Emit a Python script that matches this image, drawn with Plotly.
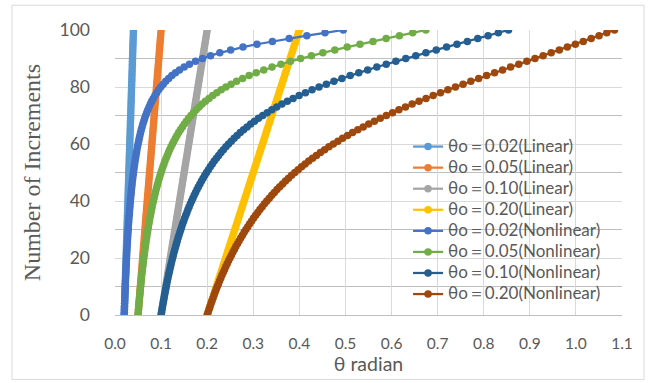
import plotly.graph_objects as go

# ---------------- data ----------------
increments = list(range(0, 101))  # increment number 0..100 (y values of every series)

linear_002 = [0.0200, 0.0202, 0.0204, 0.0206, 0.0208, 0.0210, 0.0212, 0.0214, 0.0216, 0.0218,
              0.0220, 0.0222, 0.0224, 0.0226, 0.0228, 0.0230, 0.0232, 0.0234, 0.0236, 0.0238,
              0.0240, 0.0242, 0.0244, 0.0246, 0.0248, 0.0250, 0.0252, 0.0254, 0.0256, 0.0258,
              0.0260, 0.0262, 0.0264, 0.0266, 0.0268, 0.0270, 0.0272, 0.0274, 0.0276, 0.0278,
              0.0280, 0.0282, 0.0284, 0.0286, 0.0288, 0.0290, 0.0292, 0.0294, 0.0296, 0.0298,
              0.0300, 0.0302, 0.0304, 0.0306, 0.0308, 0.0310, 0.0312, 0.0314, 0.0316, 0.0318,
              0.0320, 0.0322, 0.0324, 0.0326, 0.0328, 0.0330, 0.0332, 0.0334, 0.0336, 0.0338,
              0.0340, 0.0342, 0.0344, 0.0346, 0.0348, 0.0350, 0.0352, 0.0354, 0.0356, 0.0358,
              0.0360, 0.0362, 0.0364, 0.0366, 0.0368, 0.0370, 0.0372, 0.0374, 0.0376, 0.0378,
              0.0380, 0.0382, 0.0384, 0.0386, 0.0388, 0.0390, 0.0392, 0.0394, 0.0396, 0.0398,
              0.0400]
linear_005 = [0.0500, 0.0505, 0.0510, 0.0515, 0.0520, 0.0525, 0.0530, 0.0535, 0.0540, 0.0545,
              0.0550, 0.0555, 0.0560, 0.0565, 0.0570, 0.0575, 0.0580, 0.0585, 0.0590, 0.0595,
              0.0600, 0.0605, 0.0610, 0.0615, 0.0620, 0.0625, 0.0630, 0.0635, 0.0640, 0.0645,
              0.0650, 0.0655, 0.0660, 0.0665, 0.0670, 0.0675, 0.0680, 0.0685, 0.0690, 0.0695,
              0.0700, 0.0705, 0.0710, 0.0715, 0.0720, 0.0725, 0.0730, 0.0735, 0.0740, 0.0745,
              0.0750, 0.0755, 0.0760, 0.0765, 0.0770, 0.0775, 0.0780, 0.0785, 0.0790, 0.0795,
              0.0800, 0.0805, 0.0810, 0.0815, 0.0820, 0.0825, 0.0830, 0.0835, 0.0840, 0.0845,
              0.0850, 0.0855, 0.0860, 0.0865, 0.0870, 0.0875, 0.0880, 0.0885, 0.0890, 0.0895,
              0.0900, 0.0905, 0.0910, 0.0915, 0.0920, 0.0925, 0.0930, 0.0935, 0.0940, 0.0945,
              0.0950, 0.0955, 0.0960, 0.0965, 0.0970, 0.0975, 0.0980, 0.0985, 0.0990, 0.0995,
              0.1000]
linear_010 = [0.100, 0.101, 0.102, 0.103, 0.104, 0.105, 0.106, 0.107, 0.108, 0.109,
              0.110, 0.111, 0.112, 0.113, 0.114, 0.115, 0.116, 0.117, 0.118, 0.119,
              0.120, 0.121, 0.122, 0.123, 0.124, 0.125, 0.126, 0.127, 0.128, 0.129,
              0.130, 0.131, 0.132, 0.133, 0.134, 0.135, 0.136, 0.137, 0.138, 0.139,
              0.140, 0.141, 0.142, 0.143, 0.144, 0.145, 0.146, 0.147, 0.148, 0.149,
              0.150, 0.151, 0.152, 0.153, 0.154, 0.155, 0.156, 0.157, 0.158, 0.159,
              0.160, 0.161, 0.162, 0.163, 0.164, 0.165, 0.166, 0.167, 0.168, 0.169,
              0.170, 0.171, 0.172, 0.173, 0.174, 0.175, 0.176, 0.177, 0.178, 0.179,
              0.180, 0.181, 0.182, 0.183, 0.184, 0.185, 0.186, 0.187, 0.188, 0.189,
              0.190, 0.191, 0.192, 0.193, 0.194, 0.195, 0.196, 0.197, 0.198, 0.199,
              0.200]
linear_020 = [0.200, 0.202, 0.204, 0.206, 0.208, 0.210, 0.212, 0.214, 0.216, 0.218,
              0.220, 0.222, 0.224, 0.226, 0.228, 0.230, 0.232, 0.234, 0.236, 0.238,
              0.240, 0.242, 0.244, 0.246, 0.248, 0.250, 0.252, 0.254, 0.256, 0.258,
              0.260, 0.262, 0.264, 0.266, 0.268, 0.270, 0.272, 0.274, 0.276, 0.278,
              0.280, 0.282, 0.284, 0.286, 0.288, 0.290, 0.292, 0.294, 0.296, 0.298,
              0.300, 0.302, 0.304, 0.306, 0.308, 0.310, 0.312, 0.314, 0.316, 0.318,
              0.320, 0.322, 0.324, 0.326, 0.328, 0.330, 0.332, 0.334, 0.336, 0.338,
              0.340, 0.342, 0.344, 0.346, 0.348, 0.350, 0.352, 0.354, 0.356, 0.358,
              0.360, 0.362, 0.364, 0.366, 0.368, 0.370, 0.372, 0.374, 0.376, 0.378,
              0.380, 0.382, 0.384, 0.386, 0.388, 0.390, 0.392, 0.394, 0.396, 0.398,
              0.400]

nonlinear_002 = [0.0200, 0.0202, 0.0204, 0.0206, 0.0208, 0.0211, 0.0213, 0.0215, 0.0217, 0.0220,
                 0.0222, 0.0225, 0.0227, 0.0230, 0.0233, 0.0235, 0.0238, 0.0241, 0.0244, 0.0247,
                 0.0250, 0.0253, 0.0256, 0.0260, 0.0263, 0.0267, 0.0270, 0.0274, 0.0278, 0.0282,
                 0.0286, 0.0290, 0.0294, 0.0299, 0.0303, 0.0308, 0.0313, 0.0317, 0.0323, 0.0328,
                 0.0333, 0.0339, 0.0345, 0.0351, 0.0357, 0.0364, 0.0370, 0.0377, 0.0385, 0.0392,
                 0.0400, 0.0408, 0.0417, 0.0426, 0.0435, 0.0444, 0.0455, 0.0465, 0.0476, 0.0488,
                 0.0500, 0.0513, 0.0526, 0.0540, 0.0555, 0.0570, 0.0587, 0.0605, 0.0624, 0.0644,
                 0.0665, 0.0688, 0.0713, 0.0739, 0.0767, 0.0797, 0.0830, 0.0866, 0.0905, 0.0947,
                 0.0993, 0.1045, 0.1101, 0.1164, 0.1234, 0.1312, 0.1400, 0.1501, 0.1615, 0.1747,
                 0.1898, 0.2073, 0.2274, 0.2509, 0.2777, 0.3080, 0.3415, 0.3779, 0.4162, 0.4556,
                 0.4953]
nonlinear_005 = [0.0500, 0.0505, 0.0510, 0.0515, 0.0521, 0.0526, 0.0532, 0.0538, 0.0543, 0.0549,
                 0.0556, 0.0562, 0.0568, 0.0575, 0.0581, 0.0588, 0.0595, 0.0602, 0.0610, 0.0617,
                 0.0625, 0.0633, 0.0641, 0.0649, 0.0658, 0.0666, 0.0675, 0.0685, 0.0694, 0.0704,
                 0.0714, 0.0724, 0.0735, 0.0746, 0.0757, 0.0769, 0.0781, 0.0793, 0.0806, 0.0819,
                 0.0833, 0.0847, 0.0861, 0.0876, 0.0892, 0.0908, 0.0925, 0.0942, 0.0960, 0.0979,
                 0.0998, 0.1018, 0.1040, 0.1062, 0.1084, 0.1108, 0.1133, 0.1159, 0.1186, 0.1216,
                 0.1245, 0.1277, 0.1310, 0.1344, 0.1381, 0.1420, 0.1461, 0.1504, 0.1549, 0.1598,
                 0.1649, 0.1704, 0.1762, 0.1825, 0.1891, 0.1962, 0.2039, 0.2121, 0.2209, 0.2305,
                 0.2407, 0.2519, 0.2639, 0.2769, 0.2910, 0.3063, 0.3228, 0.3407, 0.3600, 0.3807,
                 0.4028, 0.4262, 0.4510, 0.4769, 0.5038, 0.5315, 0.5597, 0.5883, 0.6171, 0.6459,
                 0.6745]
nonlinear_010 = [0.1000, 0.1010, 0.1020, 0.1031, 0.1042, 0.1053, 0.1064, 0.1075, 0.1087, 0.1099,
                 0.1111, 0.1123, 0.1136, 0.1149, 0.1162, 0.1176, 0.1190, 0.1204, 0.1219, 0.1234,
                 0.1249, 0.1265, 0.1281, 0.1298, 0.1315, 0.1332, 0.1350, 0.1368, 0.1387, 0.1407,
                 0.1427, 0.1447, 0.1468, 0.1490, 0.1512, 0.1535, 0.1559, 0.1583, 0.1609, 0.1635,
                 0.1662, 0.1689, 0.1718, 0.1748, 0.1779, 0.1810, 0.1843, 0.1877, 0.1912, 0.1949,
                 0.1987, 0.2027, 0.2067, 0.2110, 0.2154, 0.2201, 0.2249, 0.2299, 0.2351, 0.2406,
                 0.2463, 0.2523, 0.2585, 0.2650, 0.2719, 0.2790, 0.2865, 0.2944, 0.3027, 0.3114,
                 0.3206, 0.3302, 0.3403, 0.3510, 0.3622, 0.3740, 0.3864, 0.3995, 0.4132, 0.4276,
                 0.4427, 0.4585, 0.4751, 0.4923, 0.5103, 0.5289, 0.5482, 0.5681, 0.5885, 0.6094,
                 0.6309, 0.6526, 0.6746, 0.6970, 0.7194, 0.7419, 0.7645, 0.7870, 0.8094, 0.8317,
                 0.8538]
nonlinear_020 = [0.2000, 0.2020, 0.2041, 0.2061, 0.2083, 0.2104, 0.2127, 0.2149, 0.2172, 0.2196,
                 0.2220, 0.2245, 0.2270, 0.2296, 0.2322, 0.2349, 0.2377, 0.2405, 0.2434, 0.2463,
                 0.2494, 0.2525, 0.2556, 0.2589, 0.2622, 0.2656, 0.2691, 0.2727, 0.2764, 0.2802,
                 0.2841, 0.2881, 0.2922, 0.2964, 0.3007, 0.3052, 0.3097, 0.3144, 0.3193, 0.3243,
                 0.3294, 0.3347, 0.3401, 0.3457, 0.3515, 0.3574, 0.3636, 0.3699, 0.3765, 0.3832,
                 0.3902, 0.3974, 0.4048, 0.4125, 0.4204, 0.4286, 0.4370, 0.4457, 0.4548, 0.4641,
                 0.4737, 0.4837, 0.4939, 0.5046, 0.5155, 0.5268, 0.5385, 0.5505, 0.5628, 0.5756,
                 0.5887, 0.6022, 0.6160, 0.6302, 0.6447, 0.6596, 0.6748, 0.6903, 0.7062, 0.7223,
                 0.7386, 0.7552, 0.7720, 0.7890, 0.8062, 0.8235, 0.8409, 0.8584, 0.8760, 0.8936,
                 0.9112, 0.9289, 0.9464, 0.9640, 0.9814, 0.9988, 1.0160, 1.0332, 1.0502, 1.0670,
                 1.0837]

series_names = ["θo＝0.02(Linear)", "θo＝0.05(Linear)", "θo＝0.10(Linear)", "θo＝0.20(Linear)",
                "θo＝0.02(Nonlinear)", "θo＝0.05(Nonlinear)", "θo＝0.10(Nonlinear)", "θo＝0.20(Nonlinear)"]
series_colors = ["#5B9BD5", "#ED7D31", "#A5A5A5", "#FFC000",
                 "#4472C4", "#70AD47", "#255E91", "#9E480E"]
x_tick_values = [0.0, 0.1, 0.2, 0.3, 0.4, 0.5, 0.6, 0.7, 0.8, 0.9, 1.0, 1.1]

series_x = [linear_002, linear_005, linear_010, linear_020,
            nonlinear_002, nonlinear_005, nonlinear_010, nonlinear_020]

# ---------------- figure ----------------
SANS = "Lato, 'Noto Sans', 'DejaVu Sans', sans-serif"
GREY_TEXT = "#595959"

fig = go.Figure()
for name, color, xs in zip(series_names, series_colors, series_x):
    fig.add_trace(go.Scatter(
        x=xs, y=increments, mode="lines+markers",
        name='<span style="font-size:17px">' + name + '</span>',
        line=dict(color=color, width=2.25),
        marker=dict(color=color, size=7.5, line=dict(width=0)),
    ))

fig.update_layout(
    width=649, height=383,
    margin=dict(l=115, r=27, t=30, b=66, pad=0),
    paper_bgcolor="white", plot_bgcolor="white",
    font=dict(family=SANS, color=GREY_TEXT),
    showlegend=True,
    legend=dict(
        x=0.578, y=0.6455, xanchor="left", yanchor="top",
        bgcolor="rgba(0,0,0,0)", borderwidth=0,
        font=dict(family=SANS, size=13.9, color=GREY_TEXT),
        itemwidth=30, tracegroupgap=0,
    ),
    shapes=[dict(type="rect", xref="paper", yref="paper",
                 x0=-0.2032, x1=1.0434, y0=-0.2265, y1=1.0871,
                 line=dict(color="#d9d9d9", width=1), fillcolor="rgba(0,0,0,0)",
                 layer="below")],
)

fig.update_xaxes(
    range=[0, 1.1], tickvals=x_tick_values, tickformat=".1f",
    showgrid=True, gridcolor="#d9d9d9", gridwidth=1,
    zeroline=False, showline=True, linecolor="#bfbfbf", linewidth=1,
    ticks="", ticklabelstandoff=14,
    tickfont=dict(family=SANS, size=15.5, color=GREY_TEXT),
    title=dict(text="θ radian", font=dict(family=SANS, size=19.5, color=GREY_TEXT), standoff=6),
)
fig.update_yaxes(
    range=[0, 100], dtick=20,
    showgrid=True, gridcolor="#d9d9d9", gridwidth=1,
    minor=dict(dtick=10, showgrid=True, gridcolor="#bfbfbf", gridwidth=1),
    zeroline=False, showline=False,
    ticks="", ticklabelstandoff=24,
    tickfont=dict(family=SANS, size=17.5, color=GREY_TEXT),
    title=dict(text="Number of Increments",
               font=dict(family="'Liberation Serif', 'Times New Roman', serif", size=24, color=GREY_TEXT),
               standoff=12),
)

fig.write_html("out.html")
